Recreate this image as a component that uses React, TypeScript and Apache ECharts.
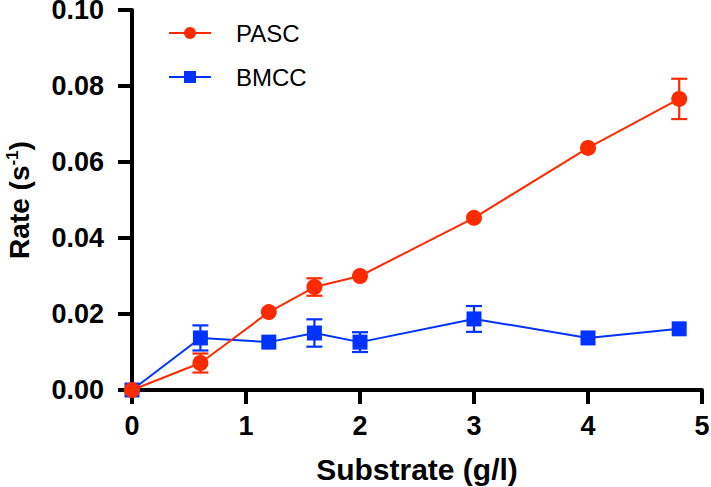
import React, { useEffect, useRef } from "react";
import * as echarts from "echarts";

const substrate = [0, 0.6, 1.2, 1.6, 2.0, 3.0, 4.0, 4.8];
const pascRate = [0, 0.0071, 0.0205, 0.0271, 0.03, 0.0453, 0.0637, 0.0766];
const pascErr = [0, 0.0025, 0, 0.0023, 0, 0, 0, 0.0053];
const bmccRate = [0, 0.0137, 0.0126, 0.015, 0.0126, 0.0187, 0.0137, 0.0161];
const bmccErr = [0, 0.0033, 0, 0.0036, 0.0026, 0.0034, 0, 0];
const xTicks = [0, 1, 2, 3, 4, 5];
const yTicks = [0, 0.02, 0.04, 0.06, 0.08, 0.1];

const RED = "#FF2B00";
const BLUE = "#0033FF";
const FONT = "Liberation Sans, Arial, Helvetica, sans-serif";

function errData(vals: number[], errs: number[]) {
  return substrate
    .map((x, i) => [x, vals[i] - errs[i], vals[i] + errs[i]])
    .filter((d, i) => errs[i] > 0);
}

function errSeries(name: string, vals: number[], errs: number[], color: string) {
  return {
    type: "custom",
    name: name + "-err",
    data: errData(vals, errs),
    z: 1,
    silent: true,
    renderItem: (params: any, api: any) => {
      const x = api.value(0);
      const lo = api.coord([x, api.value(1)]);
      const hi = api.coord([x, api.value(2)]);
      const hw = 8;
      const style = { stroke: color, lineWidth: 2.2 };
      return {
        type: "group",
        children: [
          { type: "line", shape: { x1: lo[0], y1: lo[1], x2: hi[0], y2: hi[1] }, style },
          { type: "line", shape: { x1: lo[0] - hw, y1: lo[1], x2: lo[0] + hw, y2: lo[1] }, style },
          { type: "line", shape: { x1: hi[0] - hw, y1: hi[1], x2: hi[0] + hw, y2: hi[1] }, style },
        ],
      };
    },
  };
}

export default function App() {
  const ref = useRef<HTMLDivElement>(null);
  useEffect(() => {
    if (!ref.current) return;
    const chart = echarts.init(ref.current, undefined, { renderer: "svg" });
    const axisCommon = {
      axisLine: { show: true, lineStyle: { color: "#000", width: 4 } },
      axisTick: { show: true, length: 14, lineStyle: { color: "#000", width: 4 } },
      splitLine: { show: false },
    };
    chart.setOption({
      animation: false,
      grid: { left: 132, right: 9, top: 10, bottom: 97, containLabel: false, outerBoundsMode: "none" },
      legend: {
        data: ["PASC", "BMCC"],
        orient: "vertical",
        left: 163,
        top: 16,
        itemWidth: 42,
        itemHeight: 15,
        itemGap: 20,
        textStyle: { fontSize: 24, fontFamily: FONT, color: "#000", padding: [0, 0, 0, 20] },
      },
      xAxis: {
        type: "value",
        min: 0,
        max: 5,
        interval: 1,
        ...axisCommon,
        axisLabel: {
          fontSize: 27,
          fontWeight: "bold",
          fontFamily: FONT,
          color: "#000",
          margin: 22,
          formatter: (v: number) => (xTicks.includes(v) ? String(v) : ""),
        },
        name: "Substrate (g/l)",
        nameLocation: "middle",
        nameGap: 64,
        nameTextStyle: { fontSize: 30, fontWeight: "bold", fontFamily: FONT, color: "#000" },
      },
      yAxis: {
        type: "value",
        min: 0,
        max: 0.1,
        interval: 0.02,
        ...axisCommon,
        axisLabel: {
          fontSize: 27,
          lineHeight: 20,
          fontWeight: "bold",
          fontFamily: FONT,
          color: "#000",
          margin: 28,
          formatter: (v: number) => {
            const t = yTicks.find((y) => Math.abs(y - v) < 1e-9);
            return t === undefined ? "" : t.toFixed(2);
          },
        },
        name: "{a|Rate (s}{b|-1}{a|)}",
        nameLocation: "middle",
        nameGap: 98,
        nameTextStyle: {
          rich: {
            a: { fontSize: 28, fontWeight: "bold", fontFamily: FONT, color: "#000", lineHeight: 30 },
            b: { fontSize: 17, fontWeight: "bold", fontFamily: FONT, color: "#000", lineHeight: 17, verticalAlign: "top" },
          },
        },
      },
      series: [
        errSeries("BMCC", bmccRate, bmccErr, BLUE),
        {
          type: "line",
          name: "BMCC",
          data: substrate.map((x, i) => [x, bmccRate[i]]),
          symbol: "rect",
          symbolSize: 15,
          itemStyle: { color: BLUE },
          lineStyle: { color: BLUE, width: 2 },
          z: 2,
        },
        errSeries("PASC", pascRate, pascErr, RED),
        {
          type: "line",
          name: "PASC",
          data: substrate.map((x, i) => [x, pascRate[i]]),
          symbol: "circle",
          symbolSize: 16,
          itemStyle: { color: RED },
          lineStyle: { color: RED, width: 2 },
          z: 3,
        },
      ],
    });
    return () => chart.dispose();
  }, []);
  return <div ref={ref} style={{ width: 711, height: 487, position: "absolute", left: 0, top: 0, background: "#fff" }} />;
}
